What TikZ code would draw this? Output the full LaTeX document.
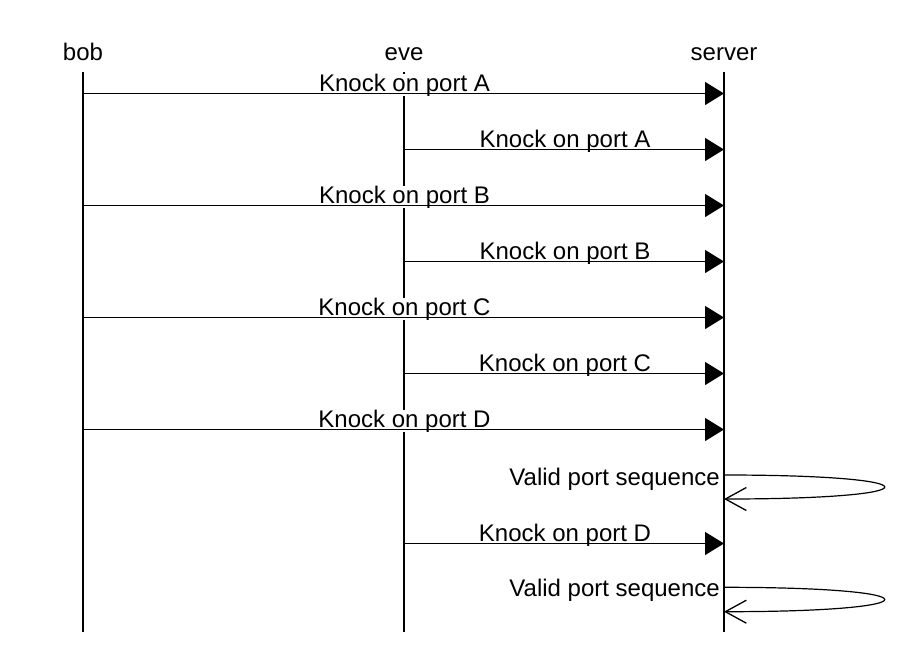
\documentclass[tikz,border=0pt]{standalone}
\usepackage{fontspec}
\setmainfont{Liberation Sans}
\usetikzlibrary{arrows.meta,calc}
\newcommand\lblfont{\fontsize{24}{28}\selectfont}
\begin{document}
\begin{tikzpicture}[x=1pt,y=-1pt,
  lifeline/.style={line width=1.6pt},
  msg/.style={line width=1.4pt,-{Triangle[length=19pt,width=23pt]}},
  selfmsg/.style={line width=1.2pt,-{Straight Barb[length=21pt,width=23pt,line width=1.3pt]}},
  actor/.style={anchor=base,inner sep=0pt,font=\lblfont},
  msglabel/.style={anchor=base,inner sep=0pt,fill=white,font=\lblfont},
]
\useasboundingbox[fill=white] (0,0) rectangle (924,664);
% actors
\node[actor] (bob) at (83,60) {bob};
\node[actor] (eve) at (404,60) {eve};
\node[actor] (server) at (724,60) {server};
% lifelines
\coordinate (bobtop) at (83,72);   \coordinate (bobbot) at (83,632);
\coordinate (evetop) at (404,72);  \coordinate (evebot) at (404,632);
\coordinate (srvtop) at (724,72);  \coordinate (srvbot) at (724,632);
\draw[lifeline] (bobtop) -- (bobbot);
\draw[lifeline] (evetop) -- (evebot);
\draw[lifeline] (srvtop) -- (srvbot);
% message end points
\foreach \i/\sx/\y in {1/83/93.5,2/404/149.5,3/83/205.5,4/404/261.5,5/83/317.5,6/404/373.5,7/83/429.5,8/404/543.5}{
  \coordinate (m\i s) at (\sx,\y);
  \coordinate (m\i t) at (724,\y);
}
% labels
\foreach \i/\p in {1/A,2/A,3/B,4/B,5/C,6/C,7/D,8/D}{
  \node[msglabel] (l\i) at ($(m\i s)!0.5!(m\i t)+(1,-2.5)$) {Knock on port \p};
}
% arrows
\foreach \i in {1,...,8}{
  \draw[msg] (m\i s) -- (m\i t);
}
% self messages
\coordinate (s1a) at (724,475); \coordinate (s1b) at (724,499);
\coordinate (s2a) at (724,587.3); \coordinate (s2b) at (724,611.7);
\node[msglabel,anchor=base east] (v1) at (720,485) {Valid port sequence};
\node[msglabel,anchor=base east] (v2) at (720,596.7) {Valid port sequence};
\draw[selfmsg] (s1a) .. controls +(214,0) and +(214,0) .. (s1b);
\draw[selfmsg] (s2a) .. controls +(214,0) and +(214,0) .. (s2b);
\end{tikzpicture}
\end{document}
